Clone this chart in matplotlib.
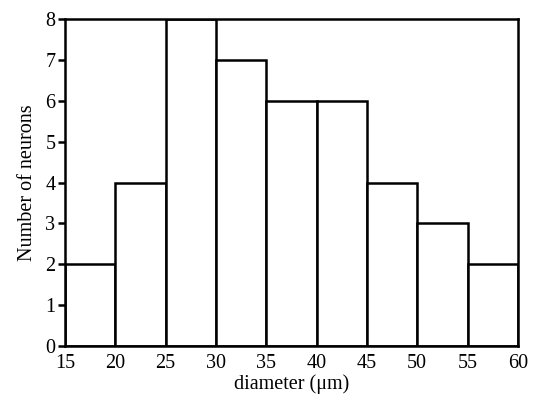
import matplotlib.pyplot as plt

bin_edges = [15, 20, 25, 30, 35, 40, 45, 50, 55, 60]
counts = [2, 4, 8, 7, 6, 6, 4, 3, 2]
xticks = [15, 20, 25, 30, 35, 40, 45, 50, 55, 60]
yticks = [0, 1, 2, 3, 4, 5, 6, 7, 8]

plt.rcParams['font.family'] = ['Liberation Serif', 'DejaVu Serif']

fig = plt.figure(figsize=(5.35, 3.98), dpi=100)
ax = fig.add_axes([0.1215, 0.1307, 0.8465, 0.8213])

lefts = bin_edges[:-1]
widths = [b - a for a, b in zip(bin_edges[:-1], bin_edges[1:])]
ax.bar(lefts, counts, width=widths, align='edge', color='white',
       edgecolor='black', linewidth=1.8)

ax.set_xlim(15, 60)
ax.set_ylim(0, 8)
ax.set_xticks(xticks)
ax.set_yticks(yticks)
ax.tick_params(axis='x', length=0, labelsize=14.5, pad=6)
ax.tick_params(axis='y', length=5, width=1.8, labelsize=14.5, pad=2)
for s in ax.spines.values():
    s.set_linewidth(1.8)

ax.set_xlabel('diameter (μm)', fontsize=14.5, labelpad=1)
ax.set_ylabel('Number of neurons', fontsize=14.5, labelpad=6)

fig.savefig('out.png', dpi=100)
